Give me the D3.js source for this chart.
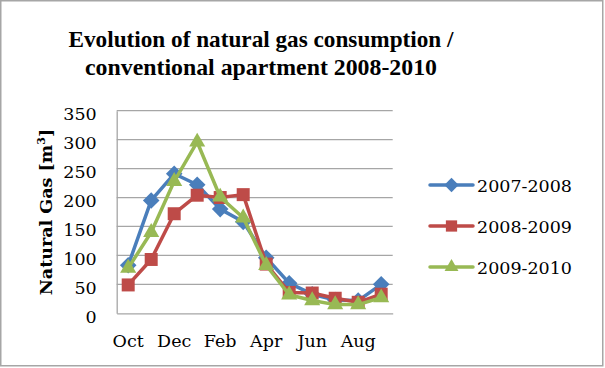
<!doctype html>
<html lang="en">
<head>
<meta charset="utf-8">
<title>Natural gas consumption</title>
<style>
body { margin: 0; background: #fff; }
svg { display: block; font-family: "DejaVu Serif", serif; }
</style>
</head>
<body>
<div id="chart"></div>
<script src="https://cdn.jsdelivr.net/npm/d3@7"></script>
<script>
var months = ["Oct", "Nov", "Dec", "Jan", "Feb", "Mar", "Apr", "May", "Jun", "Jul", "Aug", "Sep"];
var yTicks = [0, 50, 100, 150, 200, 250, 300, 350];
var seriesNames = ["2007-2008", "2008-2009", "2009-2010"];
var gas0708 = [83, 195, 241, 222, 180, 158, 96, 52, 33, 23, 22, 50];
var gas0809 = [49, 93, 172, 204, 200, 205, 85, 36, 35, 26, 19, 33];
var gas0910 = [78, 140, 228, 296, 201, 165, 83, 32, 22, 15, 15, 27];

var colors = ["#4a7ebb", "#be4b48", "#98b954"];
var shapes = [d3.symbolDiamond2, d3.symbolSquare2, d3.symbolTriangle2];
var markerSize = [175, 215, 185];
var series = [gas0708, gas0809, gas0910].map(function(v, i) {
    return {name: seriesNames[i], values: v, color: colors[i], shape: shapes[i], size: markerSize[i]};
});

var W = 605, H = 368;
var svg = d3.select("#chart").append("svg").attr("width", W).attr("height", H);

svg.append("rect")
    .attr("x", 0.75).attr("y", 0.75)
    .attr("width", W - 3).attr("height", H - 3)
    .attr("fill", "#fff").attr("stroke", "#a6a6a6").attr("stroke-width", 1.5);

var x = d3.scaleBand().domain(months).range([116.7, 392.7]);
var y = d3.scaleLinear().domain([0, 350]).range([313.3, 110.7]);
var cx = function(m) { return x(m) + x.bandwidth() / 2; };

// gridlines
svg.append("g").selectAll("line").data(yTicks.slice(1)).join("line")
    .attr("x1", 116.7).attr("x2", 392.7)
    .attr("y1", function(d) { return y(d); }).attr("y2", function(d) { return y(d); })
    .attr("stroke", "#a6a6a6").attr("stroke-width", 1.3);

// y axis
var yAxis = svg.append("g").attr("transform", "translate(116.7,0)")
    .call(d3.axisLeft(y).tickValues(yTicks).tickSize(0).tickPadding(20));
yAxis.select(".domain").attr("stroke", "#a6a6a6").attr("stroke-width", 1.3);
yAxis.selectAll("text").attr("font-family", "DejaVu Serif").attr("font-size", 17.5)
    .attr("fill", "#000").attr("dy", "0.5em");

// x axis
var xAxis = svg.append("g").attr("transform", "translate(0,313.3)")
    .call(d3.axisBottom(x).tickValues(months.filter(function(d, i) { return i % 2 === 0; }))
        .tickSize(0).tickPadding(21));
xAxis.select(".domain").attr("stroke", "#a6a6a6").attr("stroke-width", 1.3);
xAxis.selectAll("text").attr("font-family", "DejaVu Serif").attr("font-size", 17.5).attr("fill", "#000");

// lines and markers
var line = d3.line().x(function(d, i) { return cx(months[i]); }).y(function(d) { return y(d); });
series.forEach(function(s) {
    var g = svg.append("g");
    g.append("path").attr("d", line(s.values))
        .attr("fill", "none").attr("stroke", s.color).attr("stroke-width", 3.5)
        .attr("stroke-linejoin", "round");
    g.selectAll("path.m").data(s.values).join("path").attr("class", "m")
        .attr("transform", function(d, i) { return "translate(" + cx(months[i]) + "," + y(d) + ")"; })
        .attr("d", d3.symbol().type(s.shape).size(s.size))
        .attr("fill", s.color);
});

// legend
var leg = svg.append("g");
series.forEach(function(s, i) {
    var ly = 185 + i * 41;
    leg.append("line").attr("x1", 430).attr("x2", 473).attr("y1", ly).attr("y2", ly)
        .attr("stroke", s.color).attr("stroke-width", 3.5).attr("stroke-linecap", "round");
    leg.append("path").attr("transform", "translate(451.5," + ly + ")")
        .attr("d", d3.symbol().type(s.shape).size(s.size * 0.75)).attr("fill", s.color);
    leg.append("text").attr("x", 477).attr("y", ly + 7)
        .attr("font-size", 17.5).text(s.name);
});

// title
function fitText(sel, target) {
    sel.attr("textLength", target).attr("lengthAdjust", "spacingAndGlyphs");
}
var t1 = svg.append("text").attr("x", 261).attr("y", 47).attr("text-anchor", "middle")
    .attr("font-family", "Liberation Serif").attr("font-weight", "bold").attr("font-size", 24)
    .text("Evolution of natural gas consumption /");
var t2 = svg.append("text").attr("x", 261).attr("y", 75).attr("text-anchor", "middle")
    .attr("font-family", "Liberation Serif").attr("font-weight", "bold").attr("font-size", 24)
    .text("conventional apartment 2008-2010");
fitText(t1, 385);
fitText(t2, 352);

// y axis title
var yt = svg.append("text").attr("transform", "translate(52,212) rotate(-90)")
    .attr("text-anchor", "middle").attr("font-weight", "bold").attr("font-size", 17.5);
yt.append("tspan").text("Natural Gas [m");
yt.append("tspan").attr("font-size", 11).attr("dy", -7).text("3");
yt.append("tspan").attr("dy", 7).text("]");
</script>
</body>
</html>
